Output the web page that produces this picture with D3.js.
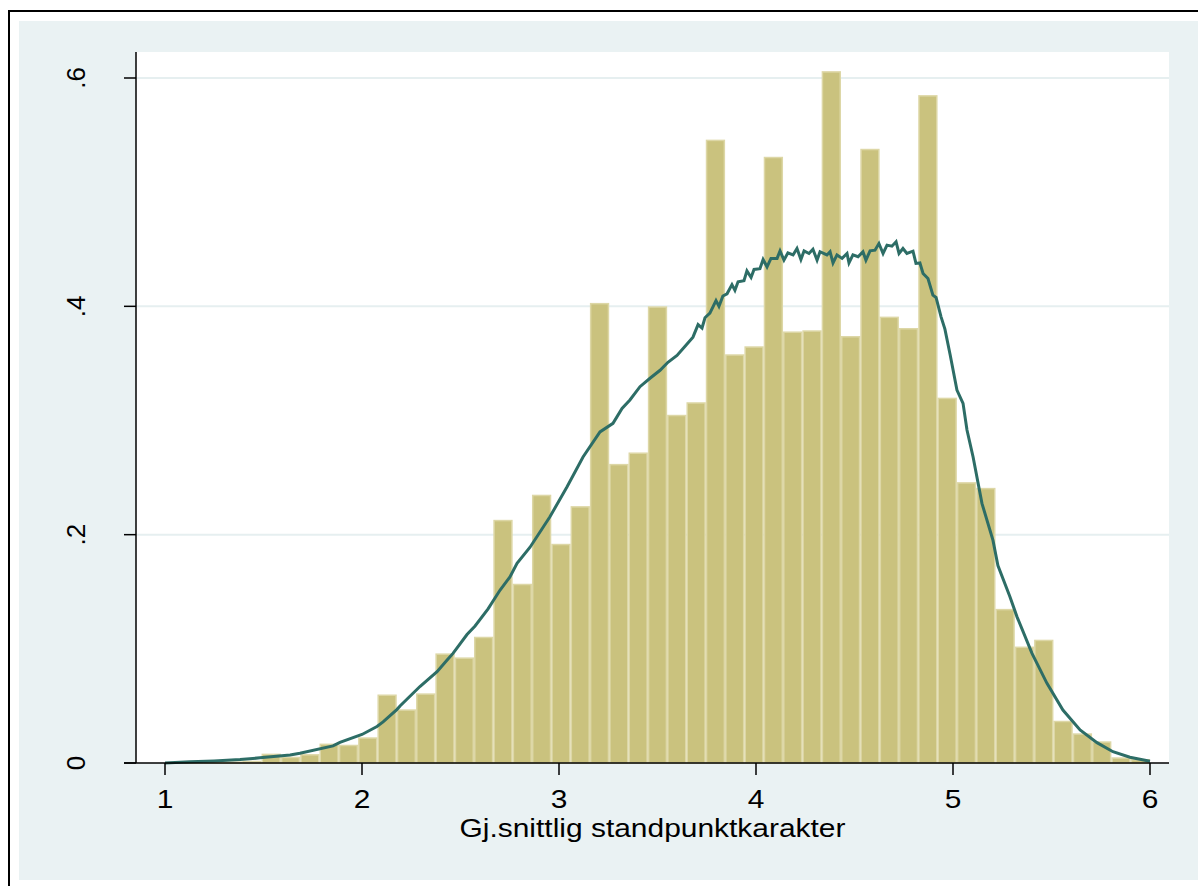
<!DOCTYPE html>
<html>
<head>
<meta charset="utf-8">
<script src="https://cdn.jsdelivr.net/npm/d3@7"></script>
<style>
  html, body { margin: 0; padding: 0; background: #ffffff; }
  svg { display: block; }
  text { font-family: "Liberation Sans", Arial, Helvetica, sans-serif; fill: #000; }
</style>
</head>
<body>
<svg id="chart" width="1198" height="886"></svg>
<script>
// ---- Data ----
const binStart = 1;
const binEnd = 6;
// histogram densities, 51 equal-width bins from 1 to 6
const binDensity = [
  0.0006, 0.0008, 0.0010, 0.0014, 0.0020, 0.0082, 0.0055, 0.0078, 0.0170, 0.0160,
  0.0225, 0.0600, 0.0470, 0.0610, 0.0960, 0.0925, 0.1106, 0.2130, 0.1570, 0.2350,
  0.1920, 0.2250, 0.4030, 0.2620, 0.2720, 0.4000, 0.3050, 0.3160, 0.5460, 0.3580,
  0.3650, 0.5310, 0.3780, 0.3790, 0.6060, 0.3740, 0.5380, 0.3910, 0.3810, 0.5850,
  0.3200, 0.2460, 0.2410, 0.1350, 0.1020, 0.1080, 0.0370, 0.0260, 0.0190, 0.0050,
  0.0035
];
// kernel density estimate: grade values and densities
const kdeX = [
  1.000, 1.127, 1.249, 1.381, 1.482, 1.635, 1.685, 1.853, 1.888, 2.000,
  2.076, 2.107, 2.178, 2.193, 2.294, 2.381, 2.431, 2.462, 2.533, 2.574,
  2.640, 2.701, 2.751, 2.787, 2.853, 2.954, 3.041, 3.122, 3.208, 3.274,
  3.320, 3.360, 3.411, 3.462, 3.513, 3.553, 3.599, 3.640, 3.680, 3.706,
  3.726, 3.741, 3.766, 3.797, 3.812, 3.832, 3.853, 3.878, 3.893, 3.909,
  3.939, 3.954, 3.975, 3.990, 4.020, 4.036, 4.056, 4.076, 4.107, 4.122,
  4.142, 4.162, 4.188, 4.208, 4.228, 4.244, 4.269, 4.289, 4.310, 4.325,
  4.360, 4.376, 4.391, 4.411, 4.437, 4.462, 4.472, 4.492, 4.518, 4.543,
  4.558, 4.579, 4.604, 4.624, 4.645, 4.665, 4.690, 4.711, 4.726, 4.746,
  4.766, 4.797, 4.812, 4.832, 4.848, 4.873, 4.898, 4.914, 4.939, 4.959,
  4.985, 5.020, 5.051, 5.071, 5.102, 5.147, 5.203, 5.228, 5.289, 5.325,
  5.401, 5.477, 5.558, 5.645, 5.731, 5.812, 5.898, 6.000
];
const kdeY = [
  0.0000, 0.0010, 0.0018, 0.0030, 0.0045, 0.0070, 0.0085, 0.0150, 0.0180, 0.0250,
  0.0320, 0.0360, 0.0470, 0.0500, 0.0670, 0.0800, 0.0900, 0.0960, 0.1125, 0.1200,
  0.1350, 0.1515, 0.1630, 0.1750, 0.1890, 0.2157, 0.2420, 0.2680, 0.2900, 0.2975,
  0.3106, 0.3180, 0.3296, 0.3370, 0.3440, 0.3510, 0.3570, 0.3650, 0.3730, 0.3840,
  0.3810, 0.3900, 0.3940, 0.4050, 0.4000, 0.4090, 0.4110, 0.4190, 0.4140, 0.4215,
  0.4224, 0.4310, 0.4253, 0.4323, 0.4330, 0.4410, 0.4346, 0.4420, 0.4420, 0.4486,
  0.4405, 0.4469, 0.4450, 0.4507, 0.4410, 0.4486, 0.4463, 0.4500, 0.4405, 0.4478,
  0.4450, 0.4478, 0.4380, 0.4450, 0.4420, 0.4463, 0.4380, 0.4450, 0.4434, 0.4478,
  0.4405, 0.4486, 0.4492, 0.4550, 0.4463, 0.4536, 0.4527, 0.4565, 0.4463, 0.4507,
  0.4463, 0.4483, 0.4376, 0.4380, 0.4288, 0.4244, 0.4098, 0.4078, 0.3910, 0.3800,
  0.3580, 0.3266, 0.3150, 0.2916, 0.2680, 0.2274, 0.1950, 0.1730, 0.1456, 0.1280,
  0.0960, 0.0698, 0.0464, 0.0289, 0.0178, 0.0099, 0.0050, 0.0015
];
const xTicks = [1, 2, 3, 4, 5, 6];
const yTicks = [0, 0.2, 0.4, 0.6];
const yTickLabels = ["0", ".2", ".4", ".6"];
const xTitle = "Gj.snittlig standpunktkarakter";

// ---- Layout ----
const svg = d3.select("#chart");
const plot = { left: 136, right: 1169, top: 52, bottom: 763 };
const x = d3.scaleLinear().domain([1, 6]).range([165, 1150]);
const y = d3.scaleLinear().domain([0, 0.6]).range([763, 78]);

// outer frame and graph region
svg.append("rect").attr("x", 9).attr("y", 11).attr("width", 1220).attr("height", 900)
  .attr("fill", "#ffffff").attr("stroke", "#000").attr("stroke-width", 2);
svg.append("rect").attr("x", 19).attr("y", 21).attr("width", 1190).attr("height", 859)
  .attr("fill", "#EAF2F3");
// plot region
svg.append("rect").attr("x", plot.left).attr("y", plot.top)
  .attr("width", plot.right - plot.left).attr("height", plot.bottom - plot.top)
  .attr("fill", "#ffffff");

// gridlines
svg.append("g").selectAll("line").data(yTicks.filter(d => d > 0)).join("line")
  .attr("x1", plot.left).attr("x2", plot.right)
  .attr("y1", d => y(d)).attr("y2", d => y(d))
  .attr("stroke", "#E6EFF0").attr("stroke-width", 2);

// bars
const nBins = binDensity.length;
const w = (binEnd - binStart) / nBins;
const bins = binDensity.map((v, i) => ({ x0: binStart + i * w, x1: binStart + (i + 1) * w, v }));
svg.append("g").selectAll("rect").data(bins).join("rect")
  .attr("x", d => x(d.x0) + 0.75)
  .attr("width", d => Math.max(0, x(d.x1) - x(d.x0) - 1.5))
  .attr("y", d => y(d.v) + 0.75)
  .attr("height", d => Math.max(0, y(0) - y(d.v) - 0.75))
  .attr("fill", "#CAC27E")
  .attr("stroke", "#DDD7A6")
  .attr("stroke-width", 1.5);

// kernel density line
const kde = kdeX.map((g, i) => [g, kdeY[i]]);
svg.append("path").datum(kde)
  .attr("fill", "none")
  .attr("stroke", "#2D6D66")
  .attr("stroke-width", 3)
  .attr("stroke-linejoin", "miter")
  .attr("d", d3.line().x(d => x(d[0])).y(d => y(d[1])));

// x axis
const xAxis = svg.append("g").attr("transform", `translate(0,${plot.bottom})`);
xAxis.append("line").attr("x1", plot.left - 12).attr("x2", plot.right)
  .attr("y1", 0).attr("y2", 0).attr("stroke", "#000").attr("stroke-width", 1.5);
xAxis.selectAll("line.tick").data(xTicks).join("line").attr("class", "tick")
  .attr("x1", d => x(d)).attr("x2", d => x(d)).attr("y1", 0).attr("y2", 12)
  .attr("stroke", "#000").attr("stroke-width", 1.5);
xAxis.selectAll("text").data(xTicks).join("text")
  .attr("transform", d => `translate(${x(d)},45) scale(1.15,1)`)
  .attr("text-anchor", "middle")
  .attr("font-size", 26)
  .text(d => d);

// y axis
const yAxis = svg.append("g").attr("transform", `translate(${plot.left},0)`);
yAxis.append("line").attr("x1", 0).attr("x2", 0)
  .attr("y1", plot.top).attr("y2", plot.bottom).attr("stroke", "#000").attr("stroke-width", 1.5);
yAxis.selectAll("line.tick").data(yTicks).join("line").attr("class", "tick")
  .attr("x1", -12).attr("x2", 0).attr("y1", d => y(d)).attr("y2", d => y(d))
  .attr("stroke", "#000").attr("stroke-width", 1.5);
yAxis.selectAll("text").data(yTicks).join("text")
  .attr("transform", d => `translate(-51,${y(d)}) rotate(-90)`)
  .attr("text-anchor", "middle")
  .attr("font-size", 26)
  .text((d, i) => yTickLabels[i]);

// x title
svg.append("text")
  .attr("x", (plot.left + plot.right) / 2)
  .attr("y", 837)
  .attr("text-anchor", "middle")
  .attr("font-size", 26)
  .attr("textLength", 386)
  .attr("lengthAdjust", "spacingAndGlyphs")
  .text(xTitle);
</script>
</body>
</html>
